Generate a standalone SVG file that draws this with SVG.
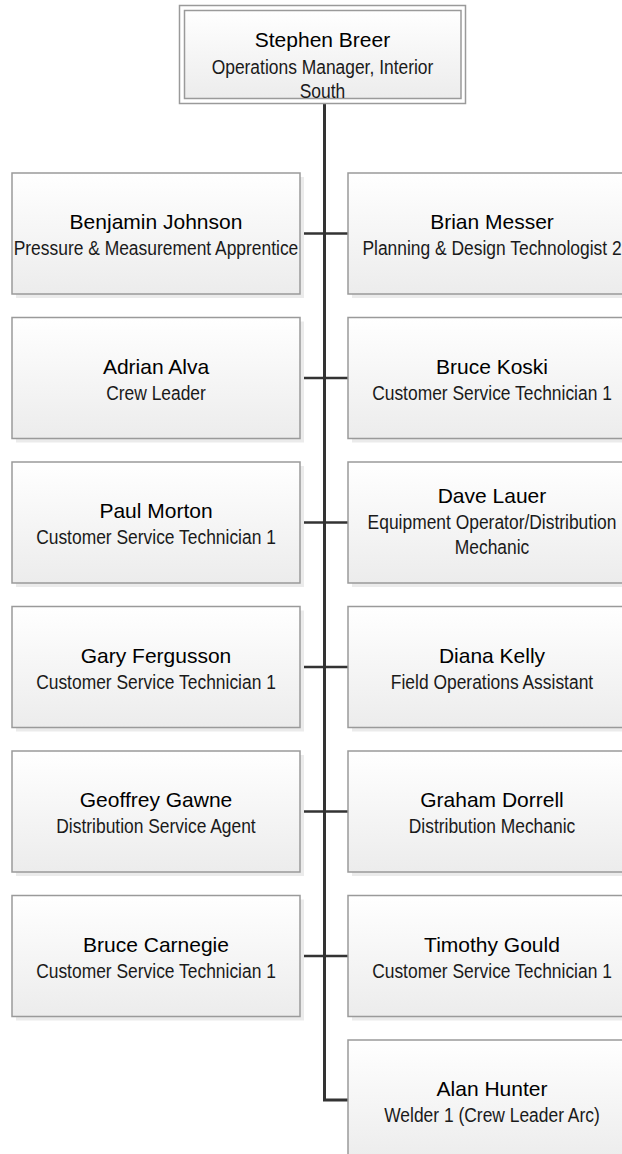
<svg xmlns="http://www.w3.org/2000/svg" width="622" height="1154" viewBox="0 0 622 1154">
<defs>
<linearGradient id="g" x1="0" y1="0" x2="0" y2="1">
<stop offset="0" stop-color="#ffffff"/>
<stop offset="1" stop-color="#ececec"/>
</linearGradient>
</defs>
<style>
.box{fill:url(#g);stroke:#9a9a9a;stroke-width:1.5}
.sh{fill:#ebebeb}
.ob{fill:#fff;stroke:#9a9a9a;stroke-width:1.5}
.nm{font-family:"Liberation Sans",Arial,sans-serif;font-size:21px;fill:#000;text-anchor:middle}
.tt{font-family:"Liberation Sans",Arial,sans-serif;font-size:21px;fill:#1a1a1a;text-anchor:middle}
.ln{stroke:#333;fill:none}
</style>
<rect width="622" height="1154" fill="#fff"/>
<g id="connectors">
<path class="ln" stroke-width="3" d="M324.5,104 V1100 H348"/>
<g stroke-width="2.5" class="ln">
<path d="M300,233.5 H348"/>
<path d="M300,378 H348"/>
<path d="M300,522.5 H348"/>
<path d="M300,667 H348"/>
<path d="M300,811.5 H348"/>
<path d="M300,956 H348"/>
</g>
</g>
<g id="n-stephen">
<rect class="ob" x="179.5" y="5.5" width="286" height="98"/>
<rect class="box" x="184.5" y="10.5" width="276.5" height="88"/>
<text class="nm" x="322.5" y="47">Stephen Breer</text>
<text class="tt" transform="translate(322.5,73.5) scale(0.83,1)">Operations Manager, Interior</text>
<text class="tt" transform="translate(322.5,97.5) scale(0.83,1)">South</text>
</g>
<g id="n-benjamin">
<rect class="sh" x="16" y="177" width="288" height="121"/>
<rect class="box" x="12" y="173" width="288" height="121"/>
<text class="nm" x="156" y="229">Benjamin Johnson</text>
<text class="tt" transform="translate(156,255) scale(0.83,1)">Pressure &amp; Measurement Apprentice</text>
</g>
<g id="n-brian">
<rect class="sh" x="352" y="177" width="288" height="121"/>
<rect class="box" x="348" y="173" width="288" height="121"/>
<text class="nm" x="492" y="229">Brian Messer</text>
<text class="tt" transform="translate(492,255) scale(0.83,1)">Planning &amp; Design Technologist 2</text>
</g>
<g id="n-adrian">
<rect class="sh" x="16" y="321.5" width="288" height="121"/>
<rect class="box" x="12" y="317.5" width="288" height="121"/>
<text class="nm" x="156" y="373.5">Adrian Alva</text>
<text class="tt" transform="translate(156,399.5) scale(0.83,1)">Crew Leader</text>
</g>
<g id="n-brucek">
<rect class="sh" x="352" y="321.5" width="288" height="121"/>
<rect class="box" x="348" y="317.5" width="288" height="121"/>
<text class="nm" x="492" y="373.5">Bruce Koski</text>
<text class="tt" transform="translate(492,399.5) scale(0.83,1)">Customer Service Technician 1</text>
</g>
<g id="n-paul">
<rect class="sh" x="16" y="466" width="288" height="121"/>
<rect class="box" x="12" y="462" width="288" height="121"/>
<text class="nm" x="156" y="518">Paul Morton</text>
<text class="tt" transform="translate(156,544) scale(0.83,1)">Customer Service Technician 1</text>
</g>
<g id="n-dave">
<rect class="sh" x="352" y="466" width="288" height="121"/>
<rect class="box" x="348" y="462" width="288" height="121"/>
<text class="nm" x="492" y="503">Dave Lauer</text>
<text class="tt" transform="translate(492,529) scale(0.83,1)">Equipment Operator/Distribution</text>
<text class="tt" transform="translate(492,554) scale(0.83,1)">Mechanic</text>
</g>
<g id="n-gary">
<rect class="sh" x="16" y="610.5" width="288" height="121"/>
<rect class="box" x="12" y="606.5" width="288" height="121"/>
<text class="nm" x="156" y="662.5">Gary Fergusson</text>
<text class="tt" transform="translate(156,688.5) scale(0.83,1)">Customer Service Technician 1</text>
</g>
<g id="n-diana">
<rect class="sh" x="352" y="610.5" width="288" height="121"/>
<rect class="box" x="348" y="606.5" width="288" height="121"/>
<text class="nm" x="492" y="662.5">Diana Kelly</text>
<text class="tt" transform="translate(492,688.5) scale(0.83,1)">Field Operations Assistant</text>
</g>
<g id="n-geoffrey">
<rect class="sh" x="16" y="755" width="288" height="121"/>
<rect class="box" x="12" y="751" width="288" height="121"/>
<text class="nm" x="156" y="807">Geoffrey Gawne</text>
<text class="tt" transform="translate(156,833) scale(0.83,1)">Distribution Service Agent</text>
</g>
<g id="n-graham">
<rect class="sh" x="352" y="755" width="288" height="121"/>
<rect class="box" x="348" y="751" width="288" height="121"/>
<text class="nm" x="492" y="807">Graham Dorrell</text>
<text class="tt" transform="translate(492,833) scale(0.83,1)">Distribution Mechanic</text>
</g>
<g id="n-brucec">
<rect class="sh" x="16" y="899.5" width="288" height="121"/>
<rect class="box" x="12" y="895.5" width="288" height="121"/>
<text class="nm" x="156" y="951.5">Bruce Carnegie</text>
<text class="tt" transform="translate(156,977.5) scale(0.83,1)">Customer Service Technician 1</text>
</g>
<g id="n-timothy">
<rect class="sh" x="352" y="899.5" width="288" height="121"/>
<rect class="box" x="348" y="895.5" width="288" height="121"/>
<text class="nm" x="492" y="951.5">Timothy Gould</text>
<text class="tt" transform="translate(492,977.5) scale(0.83,1)">Customer Service Technician 1</text>
</g>
<g id="n-alan">
<rect class="sh" x="352" y="1044" width="288" height="121"/>
<rect class="box" x="348" y="1040" width="288" height="121"/>
<text class="nm" x="492" y="1096">Alan Hunter</text>
<text class="tt" transform="translate(492,1122) scale(0.83,1)">Welder 1 (Crew Leader Arc)</text>
</g>
</svg>
